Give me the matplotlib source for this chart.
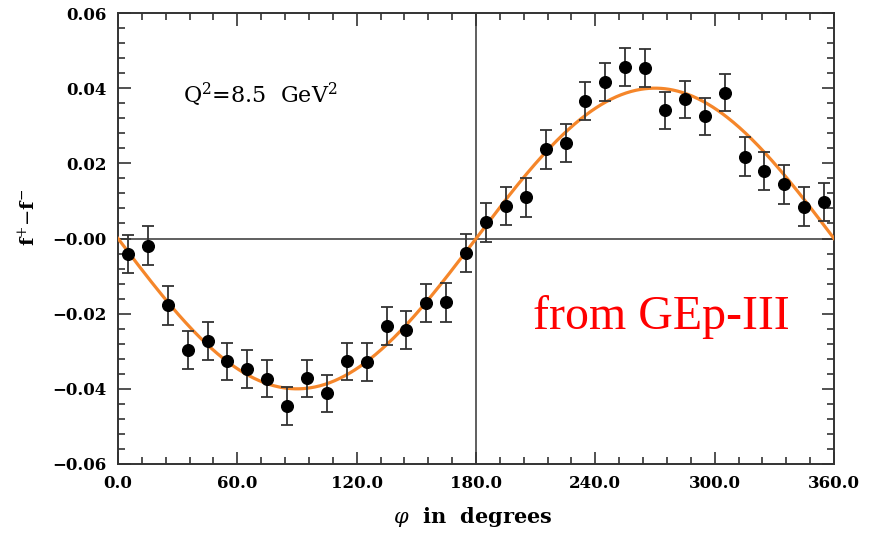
import numpy as np
import matplotlib
matplotlib.use("Agg")
import matplotlib.pyplot as plt
from matplotlib.ticker import MultipleLocator, FormatStrFormatter

# ---- data ----
phi_deg = [5, 15, 25, 35, 45, 55, 65, 75, 85, 95, 105, 115, 125, 135, 145, 155, 165, 175,
           185, 195, 205, 215, 225, 235, 245, 255, 265, 275, 285, 295, 305, 315, 325, 335, 345, 355]
asym = [-0.0041, -0.0019, -0.0178, -0.0296, -0.0273, -0.0327, -0.0347, -0.0373, -0.0446,
        -0.0372, -0.0412, -0.0327, -0.0329, -0.0232, -0.0243, -0.0172, -0.0170, -0.0038,
        0.0043, 0.0086, 0.0110, 0.0237, 0.0254, 0.0365, 0.0416, 0.0456, 0.0454, 0.0341,
        0.0370, 0.0325, 0.0388, 0.0218, 0.0179, 0.0144, 0.0085, 0.0097]
asym_err = [0.0051, 0.0051, 0.0051, 0.0050, 0.0051, 0.0050, 0.0050, 0.0050, 0.0050,
            0.0050, 0.0050, 0.0050, 0.0051, 0.0051, 0.0050, 0.0051, 0.0052, 0.0051,
            0.0052, 0.0051, 0.0052, 0.0052, 0.0050, 0.0051, 0.0051, 0.0051, 0.0051, 0.0050,
            0.0050, 0.0050, 0.0049, 0.0051, 0.0051, 0.0051, 0.0051, 0.0051]
fit_amplitude = -0.040
xtick_vals = [0, 60, 120, 180, 240, 300, 360]
ytick_vals = [-0.06, -0.04, -0.02, 0.0, 0.02, 0.04, 0.06]

plt.rcParams['mathtext.fontset'] = 'dejavuserif'
W, H = 884, 533
fig = plt.figure(figsize=(W / 100, H / 100), dpi=100)
ax = fig.add_axes([118 / W, 1 - 464 / H, (834 - 118) / W, (464 - 13) / H])

edge = '#333333'
ax.axhline(0, color='#444444', lw=1.2, zorder=1)
ax.axvline(180, color='#444444', lw=1.2, zorder=1)

phi_fit = np.linspace(0, 360, 721)
ax.plot(phi_fit, fit_amplitude * np.sin(np.radians(phi_fit)), color='#F5862A', lw=2.3, zorder=3)

ax.errorbar(phi_deg, asym, yerr=asym_err, fmt='o', color='black', ms=8.4,
            ecolor='#333333', elinewidth=1.3, capsize=4.2, capthick=1.3, zorder=4)

ax.set_xlim(0, 360)
ax.set_ylim(-0.06, 0.06)
ax.set_xticks(xtick_vals)
ax.set_yticks(ytick_vals)
ax.xaxis.set_minor_locator(MultipleLocator(12))
ax.yaxis.set_minor_locator(MultipleLocator(0.004))
ax.xaxis.set_major_formatter(FormatStrFormatter('%.1f'))
ax.set_yticklabels(['\u22120.06', '\u22120.04', '\u22120.02', '\u22120.00', '0.02', '0.04', '0.06'])
ax.tick_params(which='both', direction='in', top=True, right=True, color=edge, width=1.2)
ax.tick_params(which='major', length=9, labelsize=12, pad=8)
ax.tick_params(which='minor', length=5)
for lab in ax.get_xticklabels() + ax.get_yticklabels():
    lab.set_family('DejaVu Serif')
    lab.set_fontweight('bold')
for s in ax.spines.values():
    s.set_color(edge)
    s.set_linewidth(1.4)

ax.text(183 / W, 1 - 103 / H, r'Q$^2$=8.5  GeV$^2$', transform=fig.transFigure,
        family='DejaVu Serif', fontsize=16, ha='left', va='baseline', color='black')
fig.text(533 / W, 1 - 329 / H, 'from GEp-III', family='Liberation Serif', fontsize=34.5,
         color='#FF0000', ha='left', va='baseline')
fig.text(473 / W, 1 - 517 / H, r'$\varphi$  in  degrees', family='DejaVu Serif',
         fontweight='bold', fontsize=15, ha='center', va='center')
fig.text(28 / W, 1 - 217 / H, r'f$^{+}$$-$f$^{-}$', family='DejaVu Serif', fontweight='bold',
         fontsize=14, rotation=90, ha='center', va='center')

fig.savefig('out.png', dpi=100)
